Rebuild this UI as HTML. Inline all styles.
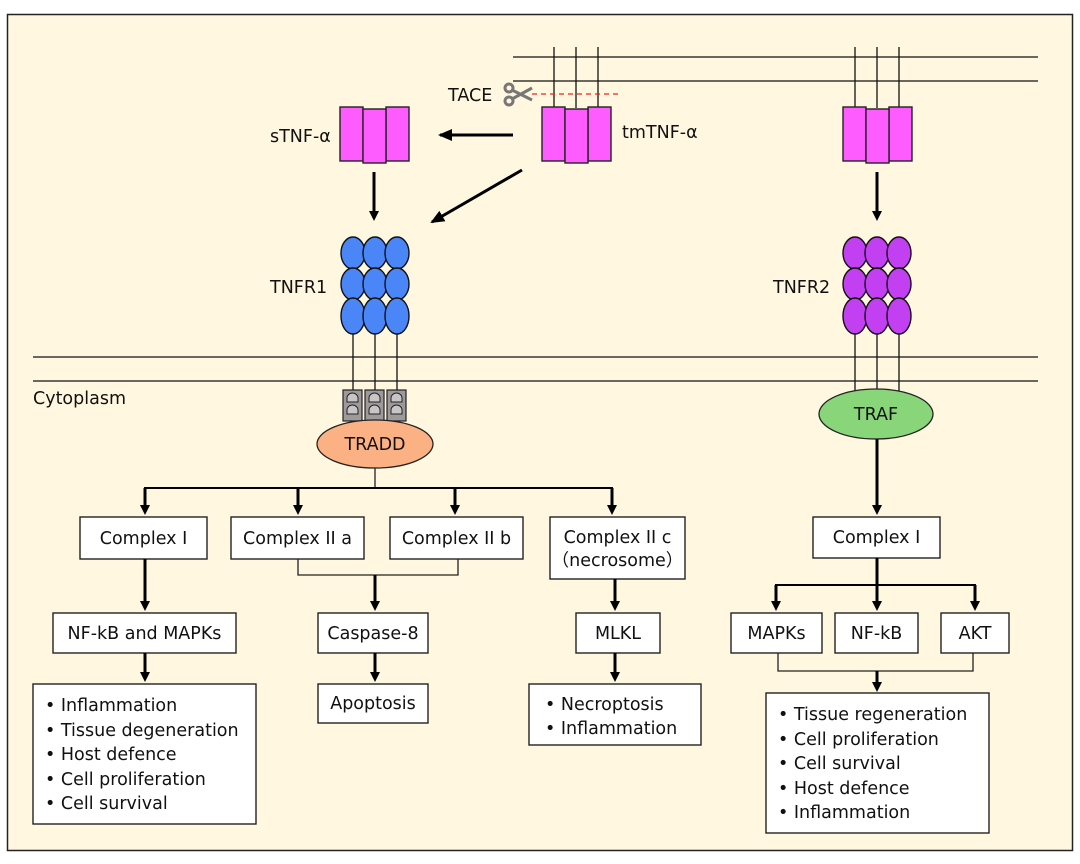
<!DOCTYPE html>
<html><head><meta charset="utf-8"><style>
html,body{margin:0;padding:0;background:#fff;}
svg{display:block;font-family:"DejaVu Sans","Liberation Sans","Noto Sans CJK SC",sans-serif;}
text{font-size:17.5px;fill:#111;}
.b{fill:#fff;stroke:#222;stroke-width:1.4;}
.t{stroke:#000;stroke-width:3;fill:none;}
.n{stroke:#222;stroke-width:1.3;fill:none;}
.m{stroke:#111;stroke-width:1.3;}
.p{fill:#ff5cff;stroke:#222;stroke-width:1.4;}
.e1{fill:#4a86f7;stroke:#111;stroke-width:1.4;}
.e2{fill:#c23ff2;stroke:#111;stroke-width:1.4;}
</style></head><body>
<svg width="1080" height="864" viewBox="0 0 1080 864">
<defs><marker id="a" markerWidth="10" markerHeight="10" refX="7" refY="5" orient="auto" markerUnits="userSpaceOnUse"><path d="M0,0 L10,5 L0,10 z" fill="#000"/></marker>
<marker id="a2" markerWidth="14" markerHeight="12" refX="12" refY="6" orient="auto" markerUnits="userSpaceOnUse"><path d="M0,0 L14,6 L0,12 z" fill="#000"/></marker></defs>
<rect x="7.5" y="14.5" width="1065" height="836" fill="#fff7df" stroke="#222" stroke-width="1.5"/>
<line class="m" x1="513" y1="57" x2="1038" y2="57"/><line class="m" x1="513" y1="81" x2="1038" y2="81"/>
<g class="m"><line x1="554" y1="47" x2="554" y2="108"/><line x1="576" y1="47" x2="576" y2="108"/><line x1="598" y1="47" x2="598" y2="108"/>
<line x1="855" y1="47" x2="855" y2="108"/><line x1="877" y1="47" x2="877" y2="108"/><line x1="899" y1="47" x2="899" y2="108"/></g>
<line x1="532" y1="94" x2="620" y2="94" stroke="#e22" stroke-width="1.3" stroke-dasharray="5,4"/>
<text x="448" y="101">TACE</text>
<g fill="none" stroke="#777" stroke-width="3"><circle cx="509" cy="88" r="4"/><circle cx="509" cy="101" r="4"/><path d="M512,90 L532,100 M512,99 L532,88"/></g>
<g><rect class="p" x="340" y="107" width="23" height="54"/><rect class="p" x="386" y="107" width="23" height="54"/><rect class="p" x="363" y="109" width="23" height="54"/></g>
<g><rect class="p" x="542" y="107" width="23" height="54"/><rect class="p" x="588" y="107" width="23" height="54"/><rect class="p" x="565" y="109" width="23" height="54"/></g>
<g><rect class="p" x="843" y="107" width="23" height="54"/><rect class="p" x="889" y="107" width="23" height="54"/><rect class="p" x="866" y="109" width="23" height="54"/></g>
<text x="270" y="142">sTNF-α</text><text x="622" y="138">tmTNF-α</text>
<line class="t" x1="513" y1="135" x2="440" y2="135" marker-end="url(#a2)"/>
<line class="t" x1="522" y1="170" x2="432" y2="222" marker-end="url(#a2)"/>
<line class="t" x1="374" y1="172" x2="374" y2="218" marker-end="url(#a)"/>
<line class="t" x1="877" y1="172" x2="877" y2="218" marker-end="url(#a)"/>
<g class="m"><line x1="353" y1="320" x2="353" y2="392"/><line x1="375" y1="320" x2="375" y2="392"/><line x1="397" y1="320" x2="397" y2="392"/>
<line x1="855" y1="320" x2="855" y2="392"/><line x1="877" y1="320" x2="877" y2="392"/><line x1="899" y1="320" x2="899" y2="392"/></g>
<g class="e1"><ellipse cx="353" cy="253" rx="12" ry="16"/><ellipse cx="375" cy="253" rx="12" ry="16"/><ellipse cx="397" cy="253" rx="12" ry="16"/>
<ellipse cx="353" cy="284" rx="12" ry="16"/><ellipse cx="375" cy="284" rx="12" ry="16"/><ellipse cx="397" cy="284" rx="12" ry="16"/>
<ellipse cx="353" cy="316" rx="12" ry="18"/><ellipse cx="375" cy="316" rx="12" ry="18"/><ellipse cx="397" cy="316" rx="12" ry="18"/></g>
<g class="e2"><ellipse cx="855" cy="253" rx="12" ry="16"/><ellipse cx="877" cy="253" rx="12" ry="16"/><ellipse cx="899" cy="253" rx="12" ry="16"/>
<ellipse cx="855" cy="284" rx="12" ry="16"/><ellipse cx="877" cy="284" rx="12" ry="16"/><ellipse cx="899" cy="284" rx="12" ry="16"/>
<ellipse cx="855" cy="316" rx="12" ry="18"/><ellipse cx="877" cy="316" rx="12" ry="18"/><ellipse cx="899" cy="316" rx="12" ry="18"/></g>
<text x="270" y="293">TNFR1</text><text x="773" y="293">TNFR2</text>
<line class="m" x1="33" y1="357" x2="1038" y2="357"/><line class="m" x1="33" y1="381" x2="1038" y2="381"/>
<text x="33" y="404">Cytoplasm</text>
<g fill="#9e9a9c" stroke="#222" stroke-width="1.2">
<rect x="343" y="390" width="19" height="31"/><rect x="365" y="390" width="19" height="31"/><rect x="387" y="390" width="19" height="31"/></g>
<g fill="#c9c5c7" stroke="#222" stroke-width="1"><path d="M347,402 v-4 a5.5,5 0 0 1 11,0 v4 z M347,414 v-4 a5.5,5 0 0 1 11,0 v4 z M369,402 v-4 a5.5,5 0 0 1 11,0 v4 z M369,414 v-4 a5.5,5 0 0 1 11,0 v4 z M391,402 v-4 a5.5,5 0 0 1 11,0 v4 z M391,414 v-4 a5.5,5 0 0 1 11,0 v4 z"/></g>
<ellipse cx="375" cy="444" rx="58" ry="24" fill="#fbb184" stroke="#222" stroke-width="1.3"/>
<text x="375" y="450" text-anchor="middle">TRADD</text>
<ellipse cx="876" cy="414" rx="57" ry="25" fill="#88d57a" stroke="#222" stroke-width="1.3"/>
<text x="876" y="420" text-anchor="middle">TRAF</text>
<line class="n" x1="375" y1="468" x2="375" y2="488"/>
<line x1="144" y1="488" x2="613" y2="488" stroke="#000" stroke-width="2"/>
<g class="t"><line x1="145" y1="488" x2="145" y2="512" marker-end="url(#a)"/><line x1="298" y1="488" x2="298" y2="512" marker-end="url(#a)"/><line x1="455" y1="488" x2="455" y2="512" marker-end="url(#a)"/><line x1="612" y1="488" x2="612" y2="512" marker-end="url(#a)"/></g>
<rect class="b" x="80" y="517" width="127" height="42"/><text x="143.5" y="544" text-anchor="middle">Complex I</text>
<rect class="b" x="231" y="517" width="133" height="42"/><text x="297.5" y="544" text-anchor="middle">Complex II a</text>
<rect class="b" x="390" y="517" width="133" height="42"/><text x="456.5" y="544" text-anchor="middle">Complex II b</text>
<rect class="b" x="550" y="517" width="135" height="62"/><text x="617.5" y="543" text-anchor="middle">Complex II c</text><text x="617.5" y="566" text-anchor="middle">（necrosome）</text>
<path class="n" d="M298,559 V575 H458 V559"/>
<line class="t" x1="375" y1="575" x2="375" y2="608" marker-end="url(#a)"/>
<line class="t" x1="145" y1="559" x2="145" y2="608" marker-end="url(#a)"/>
<line class="t" x1="615" y1="579" x2="615" y2="608" marker-end="url(#a)"/>
<rect class="b" x="53" y="613" width="183" height="40"/><text x="144.5" y="639" text-anchor="middle">NF-kB and MAPKs</text>
<rect class="b" x="318" y="613" width="110" height="40"/><text x="373" y="639" text-anchor="middle">Caspase-8</text>
<rect class="b" x="576" y="613" width="84" height="40"/><text x="618" y="639" text-anchor="middle">MLKL</text>
<line class="t" x1="145" y1="653" x2="145" y2="679" marker-end="url(#a)"/>
<line class="t" x1="375" y1="653" x2="375" y2="679" marker-end="url(#a)"/>
<line class="t" x1="615" y1="653" x2="615" y2="679" marker-end="url(#a)"/>
<rect class="b" x="33" y="684" width="223" height="140"/>
<text x="45" y="711">• Inflammation</text><text x="45" y="736">• Tissue degeneration</text><text x="45" y="760">• Host defence</text><text x="45" y="785">• Cell proliferation</text><text x="45" y="809">• Cell survival</text>
<rect class="b" x="318" y="684" width="110" height="39"/><text x="373" y="709" text-anchor="middle">Apoptosis</text>
<rect class="b" x="529" y="684" width="172" height="61"/>
<text x="545" y="710">• Necroptosis</text><text x="545" y="734">• Inflammation</text>
<line class="t" x1="877" y1="439" x2="877" y2="512" marker-end="url(#a)"/>
<rect class="b" x="813" y="517" width="127" height="41"/><text x="876.5" y="543" text-anchor="middle">Complex I</text>
<line class="t" x1="877" y1="558" x2="877" y2="608" marker-end="url(#a)"/>
<line x1="775" y1="585" x2="976" y2="585" stroke="#000" stroke-width="2"/>
<line class="t" x1="776" y1="585" x2="776" y2="608" marker-end="url(#a)"/>
<line class="t" x1="975" y1="585" x2="975" y2="608" marker-end="url(#a)"/>
<rect class="b" x="731" y="613" width="91" height="40"/><text x="776.5" y="639" text-anchor="middle">MAPKs</text>
<rect class="b" x="835" y="613" width="83" height="40"/><text x="876.5" y="639" text-anchor="middle">NF-kB</text>
<rect class="b" x="941" y="613" width="68" height="40"/><text x="975" y="639" text-anchor="middle">AKT</text>
<path class="n" d="M778,653 V671 H973 V653"/>
<line class="t" x1="877" y1="671" x2="877" y2="689" marker-end="url(#a)"/>
<rect class="b" x="766" y="693" width="223" height="140"/>
<text x="778" y="720">• Tissue regeneration</text><text x="778" y="745">• Cell proliferation</text><text x="778" y="769">• Cell survival</text><text x="778" y="794">• Host defence</text><text x="778" y="818">• Inflammation</text>
</svg>
</body></html>
